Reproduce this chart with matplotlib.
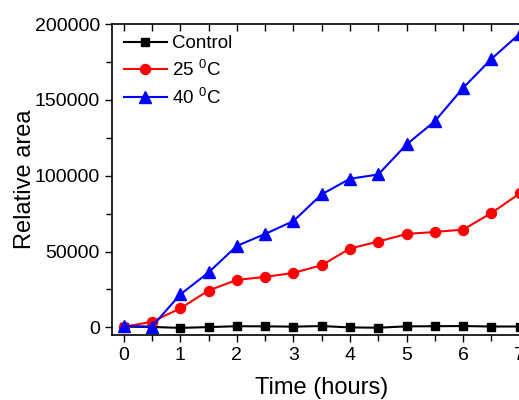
import matplotlib
matplotlib.use('Agg')
import matplotlib.pyplot as plt
from matplotlib.ticker import MultipleLocator

plt.rcParams['font.family'] = ['Liberation Sans', 'DejaVu Sans']
plt.rcParams['mathtext.fontset'] = 'custom'
plt.rcParams['mathtext.rm'] = 'Liberation Sans'
plt.rcParams['mathtext.default'] = 'regular'

hours = [0, 0.5, 1, 1.5, 2, 2.5, 3, 3.5, 4, 4.5, 5, 5.5, 6, 6.5, 7]
control = [500, 300, -300, 200, 800, 700, 500, 900, 0, -200, 700, 800, 900, 600, 600]
temp_25 = [400, 3700, 12500, 24300, 31300, 33300, 35900, 41000, 52000,
           56600, 61600, 62900, 64500, 75400, 88300]
temp_40 = [1000, 500, 21700, 36200, 53700, 61600, 70100, 87700, 98000,
           100800, 120600, 135900, 157900, 177000, 193600]

series = [
    ('Control', control, 'black', 's', 5.8),
    ('25 $^0$C', temp_25, 'red', 'o', 7.2),
    ('40 $^0$C', temp_40, 'blue', '^', 8),
]

fig = plt.figure(figsize=(5.19, 4.0), dpi=100)
ax = fig.add_axes([0.2164, 0.1625, 0.8068, 0.7775])

for label, vals, color, marker, ms in series:
    ax.plot(hours, vals, color=color, marker=marker, markersize=ms,
            linewidth=1.5, label=label, clip_on=False)

ax.set_xlim(-0.2, 7.2)
ax.set_ylim(-5000, 200000)
ax.xaxis.set_major_locator(MultipleLocator(1))
ax.xaxis.set_minor_locator(MultipleLocator(0.5))
ax.yaxis.set_major_locator(MultipleLocator(50000))
ax.yaxis.set_minor_locator(MultipleLocator(25000))

ax.tick_params(axis='both', which='major', direction='out', length=5,
               width=1, labelsize=14, pad=4)
ax.tick_params(axis='both', which='minor', direction='out', length=4, width=1)
ax.xaxis.set_tick_params(which='both', top=True, labeltop=False)

# top ticks point into the plot, bottom/left ones point outward
for t in ax.xaxis.get_major_ticks() + ax.xaxis.get_minor_ticks():
    t.tick2line.set_marker(3)
    t.tick2line.set_markersize(5)

for side in ['left', 'bottom', 'top', 'right']:
    ax.spines[side].set_linewidth(1.2)

ax.set_xlabel('Time (hours)', fontsize=17, labelpad=9)
ax.set_ylabel('Relative area', fontsize=17, labelpad=-1)

ax.legend(loc='upper left', frameon=False, fontsize=13.5, handlelength=2.3,
          handletextpad=0.3, labelspacing=0.4, borderaxespad=0.3,
          borderpad=0.3)

fig.savefig('out.png', dpi=100)
